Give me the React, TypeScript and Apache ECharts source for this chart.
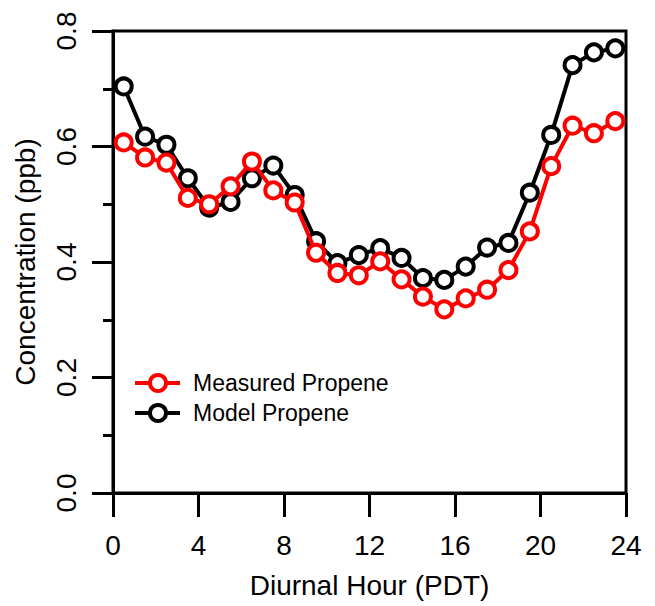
import React, { useEffect, useRef } from "react";
import * as echarts from "echarts";

const hours = [0.5, 1.5, 2.5, 3.5, 4.5, 5.5, 6.5, 7.5, 8.5, 9.5, 10.5, 11.5, 12.5, 13.5, 14.5, 15.5, 16.5, 17.5, 18.5, 19.5, 20.5, 21.5, 22.5, 23.5];
const measuredPropene = [0.607, 0.581, 0.572, 0.511, 0.5, 0.531, 0.574, 0.524, 0.503, 0.416, 0.381, 0.377, 0.401, 0.37, 0.34, 0.318, 0.337, 0.352, 0.386, 0.453, 0.566, 0.636, 0.623, 0.644];
const modelPropene = [0.704, 0.617, 0.603, 0.545, 0.494, 0.504, 0.545, 0.567, 0.516, 0.436, 0.398, 0.412, 0.424, 0.407, 0.372, 0.369, 0.392, 0.425, 0.433, 0.52, 0.62, 0.741, 0.763, 0.77];
const seriesNames = ["Measured Propene", "Model Propene"];
const seriesColors = ["#ff0000", "#000000"];
const xTitle = "Diurnal Hour (PDT)";
const yTitle = "Concentration (ppb)";

const FONT = "'Liberation Sans', Arial, sans-serif";

export default function App() {
  const ref = useRef<HTMLDivElement>(null);
  useEffect(() => {
    if (!ref.current) return;
    const chart = echarts.init(ref.current, undefined, { renderer: "svg" });
    const mk = (name: string, color: string, ys: number[], z: number) => ({
      name,
      type: "line",
      z,
      data: hours.map((h, i) => [h, ys[i]]),
      symbol: "circle",
      symbolSize: 16,
      showSymbol: true,
      lineStyle: { color, width: 4 },
      itemStyle: { color: "#ffffff", borderColor: color, borderWidth: 4 },
      emphasis: { disabled: true },
    });
    const legendItems: any[] = [];
    seriesNames.forEach((n, i) => {
      const y = 383 + i * 30;
      legendItems.push(
        { type: "line", shape: { x1: 135, y1: y, x2: 180, y2: y }, style: { stroke: seriesColors[i], lineWidth: 4 } },
        { type: "circle", shape: { cx: 158, cy: y, r: 8 }, style: { fill: "#fff", stroke: seriesColors[i], lineWidth: 4 } },
        { type: "text", x: 193, y, style: { text: n, font: `23px ${FONT}`, fill: "#000", textVerticalAlign: "middle", verticalAlign: "middle" } }
      );
    });
    chart.setOption({
      animation: false,
      backgroundColor: "#ffffff",
      grid: { left: 113, right: 29, top: 31, bottom: 113, show: true, borderColor: "#000", borderWidth: 3, backgroundColor: "transparent" },
      xAxis: {
        type: "value",
        min: 0,
        max: 24,
        interval: 4,
        name: xTitle,
        nameLocation: "middle",
        nameGap: 78,
        nameTextStyle: { fontFamily: FONT, fontSize: 28, color: "#000" },
        axisLine: { show: true, lineStyle: { color: "#000", width: 3 } },
        axisTick: { show: true, inside: false, length: 24, lineStyle: { color: "#000", width: 3 } },
        axisLabel: { fontFamily: FONT, fontSize: 28, color: "#000", margin: 38 },
        splitLine: { show: false },
      },
      yAxis: {
        type: "value",
        min: 0,
        max: 0.8,
        interval: 0.2,
        name: yTitle,
        nameLocation: "middle",
        nameRotate: 90,
        nameGap: 74,
        nameTextStyle: { fontFamily: FONT, fontSize: 28, color: "#000" },
        axisLine: { show: true, lineStyle: { color: "#000", width: 3 } },
        axisTick: { show: true, inside: false, length: 21, lineStyle: { color: "#000", width: 3 } },
        minorTick: { show: true, splitNumber: 2, length: 10, lineStyle: { color: "#000", width: 3 } },
        axisLabel: { fontFamily: FONT, fontSize: 28, color: "#000", margin: 33, rotate: 90, formatter: (v: number) => v.toFixed(1) },
        splitLine: { show: false },
        minorSplitLine: { show: false },
      },
      graphic: legendItems,
      series: [mk(seriesNames[1], seriesColors[1], modelPropene, 2), mk(seriesNames[0], seriesColors[0], measuredPropene, 3)],
    });
    return () => chart.dispose();
  }, []);
  return <div ref={ref} style={{ position: "fixed", left: 0, top: 0, width: 655, height: 606, background: "#fff" }} />;
}
